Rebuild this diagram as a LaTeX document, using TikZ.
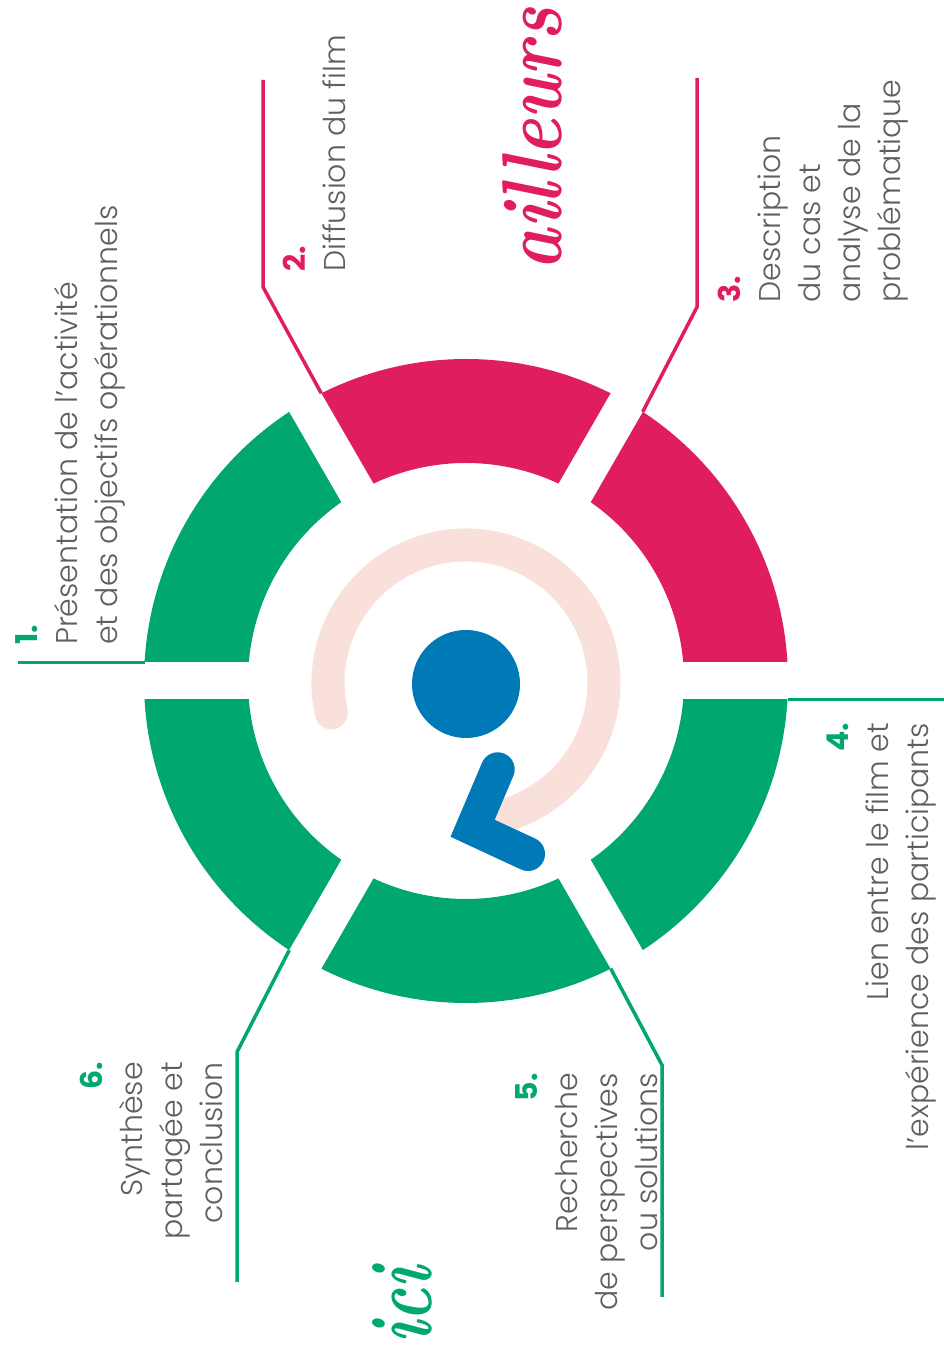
\documentclass[tikz,border=0pt]{standalone}
\usepackage{fontspec}
\usepackage{xcolor}
\usepackage{graphicx}
\usepackage{tikz}
\usetikzlibrary{calc}

\IfFontExistsTF{Poppins Light}{\newfontfamily\txtfont{Poppins Light}}{\newfontfamily\txtfont{Poppins}}
\newfontfamily\numfont{Poppins}

\definecolor{vert}{RGB}{0,167,112}
\definecolor{rose}{RGB}{225,29,98}
\definecolor{bleu}{RGB}{0,121,183}
\definecolor{pale}{RGB}{250,224,219}
\definecolor{gris}{RGB}{95,95,95}

\tikzset{
  etape/.style = {rotate=90, inner sep=0pt, text=gris,
    font=\txtfont\fontsize{30}{40}\selectfont},
  etape_g/.style = {etape, anchor=north west, align=left},% texte cale en bas
  etape_d/.style = {etape, anchor=north east, align=right},% texte cale en haut
  renvoi/.style = {line width=3.5pt},% trait de renvoi
  mot/.style = {rotate=90, inner sep=0pt, font=\bfseries\itshape}% ici, ailleurs
}
\newcommand{\etnum}[2]{{\numfont\bfseries\color{#1}#2}}

\begin{document}
\begin{tikzpicture}[x=1pt, y=1pt]
\useasboundingbox (0,0) rectangle (944,1359);
\begin{scope}[shift={(466,678)}]
% couronne
\foreach \a/\b/\c in {120/180/vert, 60/120/rose, 0/60/rose, -60/0/vert, -120/-60/vert, 180/240/vert}
  \fill[\c] (\a:322) arc[start angle=\a, end angle=\b, radius=322]
    -- (\b:218) arc[start angle=\b, end angle=\a, radius=218] -- cycle;
\foreach \a in {0,60,120}
  \draw[white, line width=37pt] (\a:345) -- ({\a+180}:345);
% cadran
\coordinate (O) at (0,-2);
\fill[pale] ($(O)+(192.5:138)$) circle[radius=16.5];
\draw[pale, line width=33pt] ($(O)+(192.5:138)$) arc[start angle=192.5, end angle=-82, radius=138];
\fill[bleu] (0,-3) circle[radius=54];
\coordinate (aig1) at (31.7,-88.3);
\coordinate (aig2) at (6.6,-147.3);
\coordinate (aig3) at (62,-173);
\draw[bleu, line width=34pt, line cap=round, line join=miter] (aig1) -- (aig2) -- (aig3);
% renvois
\coordinate (r1a) at (-321.5,18.5);
\coordinate (r1b) at (-448,18.5);
\coordinate (r2a) at (-144.75,287.7);
\coordinate (r2b) at (-203,394);
\coordinate (r2c) at (-203,601);
\coordinate (r3a) at (176.75,269.2);
\coordinate (r3b) at (231,374);
\coordinate (r3c) at (231,603);
\coordinate (r4a) at (321.5,-18.5);
\coordinate (r4b) at (478,-18.5);
\coordinate (r5a) at (144.75,-287.7);
\coordinate (r5b) at (196,-384);
\coordinate (r5c) at (196,-616);
\coordinate (r6a) at (-176.75,-269.2);
\coordinate (r6b) at (-229,-371);
\coordinate (r6c) at (-229,-601);
\draw[renvoi, vert] (r1a) -- (r1b);
\draw[renvoi, rose] (r2a) -- (r2b) -- (r2c);
\draw[renvoi, rose] (r3a) -- (r3b) -- (r3c);
\draw[renvoi, vert] (r4a) -- (r4b);
\draw[renvoi, vert] (r5a) -- (r5b) -- (r5c);
\draw[renvoi, vert] (r6a) -- (r6b) -- (r6c);
\end{scope}
% etapes
\node[etape_g] (e1) at (15,714) {\etnum{vert}{1.}\\ Présentation de l’activité\\ et des objectifs opérationnels};
\node[etape_g] (e2) at (283,1087) {\etnum{rose}{2.}\\ Diffusion du film};
\node[etape_g] (e3) at (718,1056) {\etnum{rose}{3.}\\ Description\\ du cas et\\ analyse de la\\ problématique};
\node[etape_d] (e4) at (827,636) {\etnum{vert}{4.}\\ Lien entre le film et\\ l’expérience des participants};
\node[etape_d] (e5) at (515,286) {\etnum{vert}{5.}\\ Recherche\\ de perspectives\\ ou solutions};
\node[etape_d] (e6) at (80,297) {\etnum{vert}{6.}\\ Synthèse\\ partagée et\\ conclusion};
\node[mot, rose] (ailleurs) at (532,1220) {\resizebox{262pt}{59pt}{ailleurs}};
\node[mot, vert] (ici) at (402,54) {\resizebox{76pt}{59pt}{ici}};
\end{tikzpicture}
\end{document}
